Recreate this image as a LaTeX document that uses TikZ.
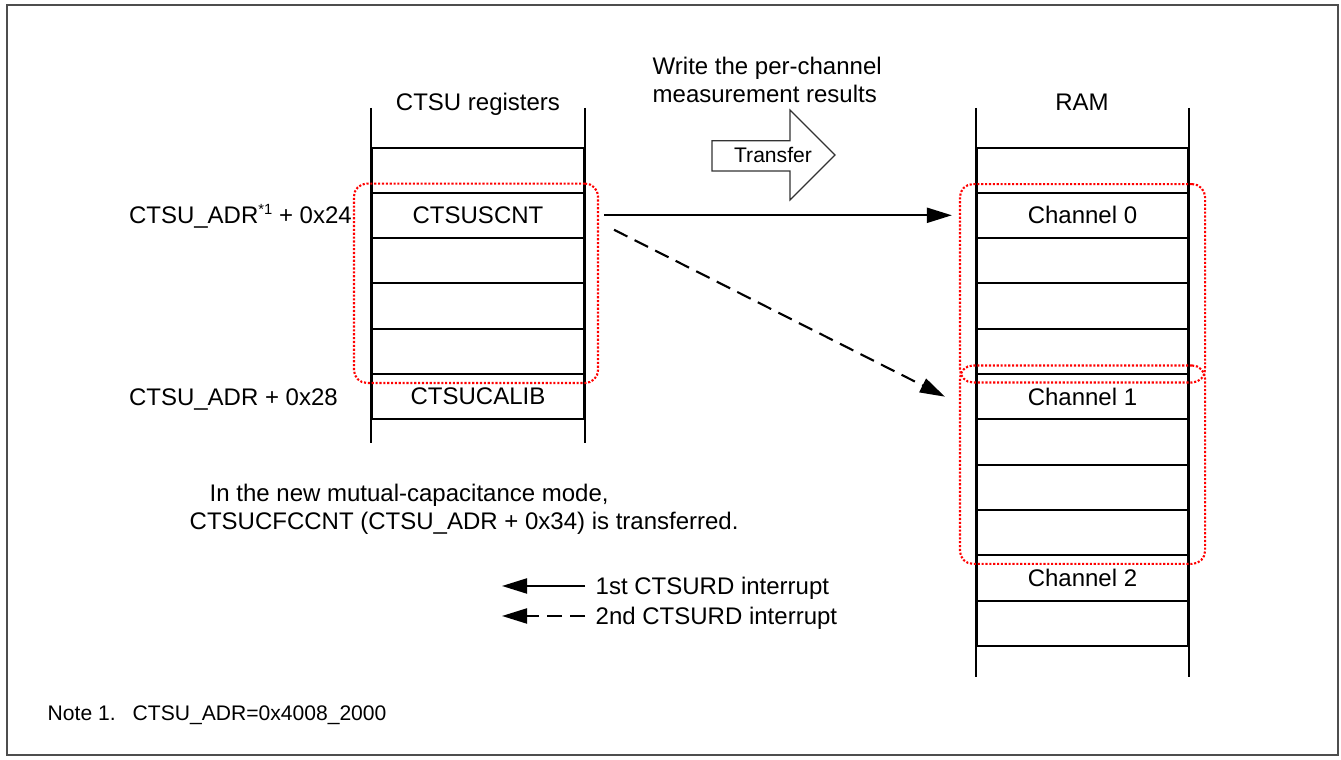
\documentclass[tikz,border=0pt]{standalone}
\usepackage{fontspec}
\setmainfont{Liberation Sans}
\usetikzlibrary{arrows.meta,positioning,calc,fit}
\newcommand\txtmain{\fontsize{6.83pt}{8.1pt}\selectfont}
\newcommand\txtnote{\fontsize{6.0pt}{7pt}\selectfont}
\newcommand\notemark[1]{\raisebox{2.6pt}{\fontsize{4.2pt}{5pt}\selectfont #1}}
\definecolor{framegray}{HTML}{4D4D4D}
\tikzset{
  cell/.style={draw, line width=0.6pt, minimum width=2.12cm, minimum height=4.533mm,
               inner sep=0pt, font=\txtmain},
  ramcell/.style={cell, minimum width=2.11cm},
  lbl/.style={inner sep=0pt, font=\txtmain, text height=4.9pt, text depth=0pt},
  grp/.style={draw=red, line width=0.6pt, dash pattern=on 0.6pt off 0.5pt,
              rounded corners=0.13cm, inner xsep=0.16cm, inner ysep=0.075cm},
  rail/.style={line width=0.6pt},
  link/.style={-{Triangle[length=2.5mm, width=1.5mm]}, line width=0.6pt},
  dlink/.style={link, dash pattern=on 1.5mm off 0.8mm}
}

\begin{document}
\begin{tikzpicture}[x=1cm,y=1cm]
  \useasboundingbox (0,0) rectangle (13.41,-7.60);
  \draw[framegray, line width=0.6pt] (0.07,-0.05) rectangle (13.38,-7.55);

  % CTSU registers
  \node[cell] (regA) at (4.78,-1.707) {};
  \node[cell] (scnt) at (4.78,-2.153) {CTSUSCNT};
  \node[cell] (reg2) at (4.78,-2.607) {};
  \node[cell] (reg3) at (4.78,-3.060) {};
  \node[cell] (reg4) at (4.78,-3.513) {};
  \node[cell] (calib) at (4.78,-3.967) {CTSUCALIB};
  \draw[rail] ($(regA.north west)+(0,0.39)$) -- ($(calib.south west)+(0,-0.23)$);
  \draw[rail] ($(regA.north east)+(0,0.39)$) -- ($(calib.south east)+(0,-0.23)$);
  \node[lbl] (regtitle) at (4.78,-1.017) {CTSU registers};
  \node[lbl, anchor=west] (adr24) at (1.283,-2.153) {CTSU\_ADR\notemark{*1} + 0x24};
  \node[lbl, anchor=west] (adr28) at (1.283,-3.967) {CTSU\_ADR + 0x28};

  % RAM
  \node[ramcell] (ramA) at (10.825,-1.707) {};
  \node[ramcell] (ch0) at (10.825,-2.153) {Channel 0};
  \node[ramcell] (ram0b) at (10.825,-2.607) {};
  \node[ramcell] (ram0c) at (10.825,-3.060) {};
  \node[ramcell] (ram0d) at (10.825,-3.513) {};
  \node[ramcell] (ch1) at (10.825,-3.967) {Channel 1};
  \node[ramcell] (ram1b) at (10.825,-4.420) {};
  \node[ramcell] (ram1c) at (10.825,-4.873) {};
  \node[ramcell] (ram1d) at (10.825,-5.327) {};
  \node[ramcell] (ch2) at (10.825,-5.780) {Channel 2};
  \node[ramcell] (ram2b) at (10.825,-6.233) {};
  \draw[rail] ($(ramA.north west)+(0,0.39)$) -- ($(ram2b.south west)+(0,-0.30)$);
  \draw[rail] ($(ramA.north east)+(0,0.39)$) -- ($(ram2b.south east)+(0,-0.30)$);
  \node[lbl] (ramtitle) at (10.82,-1.017) {RAM};

  % dotted groups
  \node[grp, fit=(scnt)(reg4), inner xsep=0.15cm, inner ysep=0.08cm, xshift=-0.02cm] (regsel) {};
  \node[grp, fit=(ch0)(ram0d)] (ramsel0) {};
  \node[grp, fit=(ch1)(ram1d)] (ramsel1) {};

  % transfer
  \draw[black!80, line width=0.35pt] (7.12,-1.407) -- (7.90,-1.407) -- (7.90,-1.10)
    -- (8.35,-1.55) -- (7.90,-2.00) -- (7.90,-1.71) -- (7.12,-1.71) -- cycle;
  \node[lbl, font=\txtnote, text height=4.3pt] (xfer) at (7.73,-1.55) {Transfer};
  \node[inner sep=0pt, font=\txtmain, align=left, anchor=north west] (writenote)
    at (6.52,-0.56) {Write the per-channel\\measurement results};

  \draw[link, shorten <=0.05cm, shorten >=0.07cm] (regsel.east |- scnt) -- (ramsel0.west |- ch0);
  \draw[dlink] ($(scnt.east)+(0.29,-0.145)$) -- ($(ch1.west)+(-0.31,0)$);

  \node[inner sep=0pt, font=\txtmain, align=left, anchor=north west] (modenote)
    at (1.89,-4.834) {\hspace*{0.2cm}In the new mutual-capacitance mode,\\CTSUCFCCNT (CTSU\_ADR + 0x34) is transferred.};

  % legend
  \node[lbl, anchor=west, inner xsep=0.1cm] (leg1) at (5.85,-5.86) {1st CTSURD interrupt};
  \node[lbl, anchor=west, inner xsep=0.1cm] (leg2) at (5.85,-6.16) {2nd CTSURD interrupt};
  \coordinate (leg1tip) at (5.02,-5.86);
  \coordinate (leg2tip) at (5.02,-6.16);
  \draw[link] (leg1.west) -- (leg1tip);
  \draw[dlink] (leg2.west) -- (leg2tip);

  \node[lbl, font=\txtnote, text height=4.3pt, anchor=west] (fn) at (0.47,-7.127)
    {Note 1.\hspace{0.17cm}CTSU\_ADR=0x4008\_2000};
\end{tikzpicture}
\end{document}
